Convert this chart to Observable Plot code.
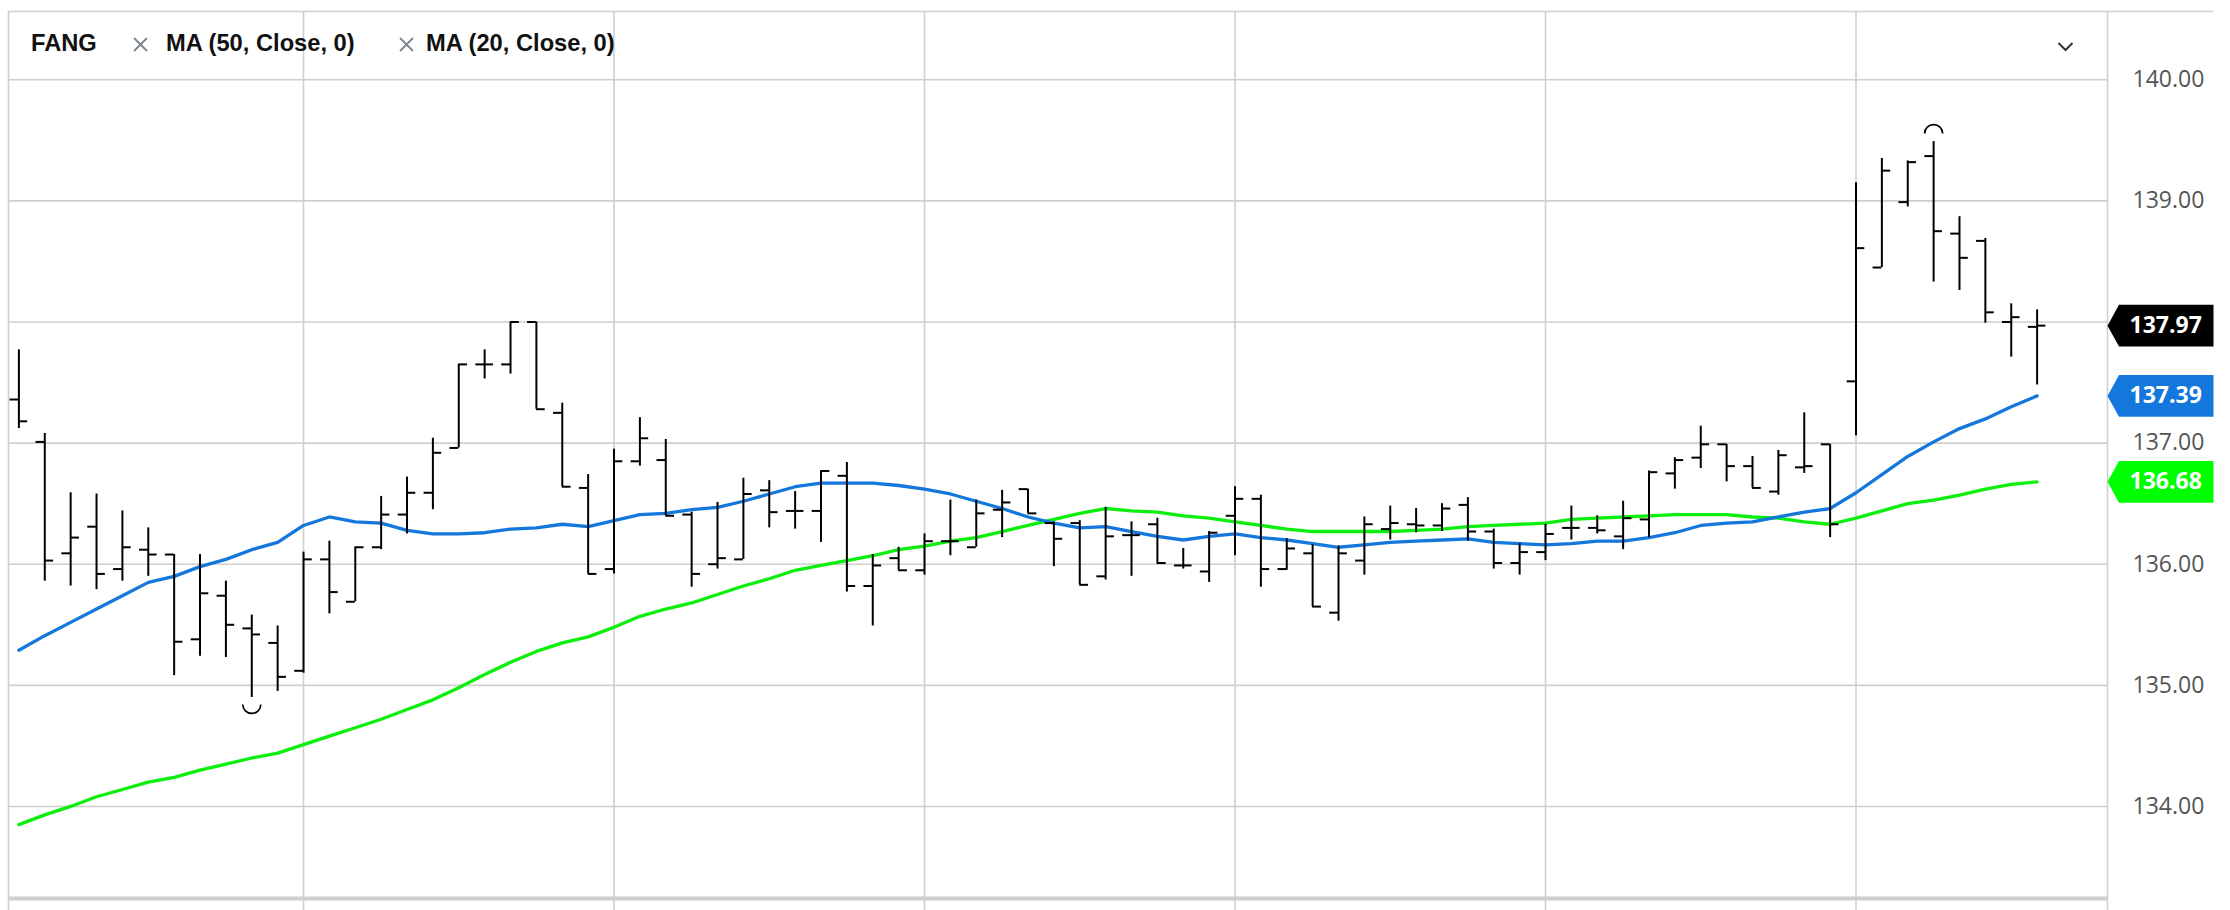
<!DOCTYPE html>
<html>
<head>
<meta charset="utf-8">
<script src="https://cdn.jsdelivr.net/npm/d3@7"></script>
<script src="https://cdn.jsdelivr.net/npm/@observablehq/plot@0.6"></script>
<style>
  html, body { margin: 0; padding: 0; background: #fff; }
  #wrap { position: relative; width: 2230px; height: 910px; overflow: hidden; }
  #wrap svg.plot { position: absolute; left: 0; top: 0; }
  .lg { position: absolute; top: 32px; font-family: "Liberation Sans", Arial, sans-serif; font-weight: bold; font-size: 23.7px; line-height: 23px; color: #111; white-space: nowrap; }
  .ic { position: absolute; }
</style>
</head>
<body>
<div id="wrap">
  <div id="chart"></div>
  <span class="lg" style="left:31px">FANG</span>
  <svg class="ic" style="left:133px;top:37px" width="15" height="15"><path d="M1,1L14,14M14,1L1,14" stroke="#7d868c" stroke-width="1.8" fill="none"/></svg>
  <span class="lg" style="left:166px">MA (50, Close, 0)</span>
  <svg class="ic" style="left:399px;top:37px" width="15" height="15"><path d="M1,1L14,14M14,1L1,14" stroke="#7d868c" stroke-width="1.8" fill="none"/></svg>
  <span class="lg" style="left:426px">MA (20, Close, 0)</span>
  <svg class="ic" style="left:2057px;top:41px" width="18" height="12"><path d="M1.5,2L8.5,9L15.5,2" stroke="#333" stroke-width="2" fill="none"/></svg>
</div>
<script>
// ---- data (5-minute bars, index 0..78) ----
const opens = [137.36,137.01,136.09,136.31,135.96,136.12,136.08,135.38,135.74,135.47,135.35,135.12,136.04,135.69,136.14,136.41,136.59,136.96,137.65,137.65,138.00,137.25,136.63,135.96,136.85,136.86,136.41,136.00,136.04,136.61,136.44,136.44,136.73,135.82,136.05,135.95,136.19,136.14,136.45,136.62,136.34,136.34,135.90,136.24,136.33,135.99,135.94,136.40,136.54,135.96,136.09,135.60,136.03,136.29,136.33,136.32,136.49,136.27,136.01,136.10,136.30,136.30,136.23,136.37,136.75,136.88,136.99,136.81,136.60,136.80,136.99,137.51,138.45,138.99,139.37,138.73,138.67,138.00,137.96];
const highs = [137.77,137.08,136.59,136.58,136.44,136.30,136.08,136.08,135.86,135.58,135.49,136.10,136.19,136.14,136.56,136.72,137.04,137.65,137.77,138.00,138.00,137.33,136.74,136.95,137.21,137.03,136.43,136.51,136.71,136.69,136.60,136.77,136.84,136.08,136.14,136.25,136.53,136.53,136.61,136.62,136.35,136.36,136.47,136.35,136.38,136.13,136.27,136.64,136.57,136.21,136.16,136.15,136.39,136.48,136.46,136.50,136.55,136.29,136.17,136.33,136.48,136.40,136.52,136.77,136.88,137.14,136.99,136.89,136.94,137.25,136.99,139.15,139.35,139.33,139.49,138.87,138.69,138.15,138.10];
const lows = [137.12,135.86,135.82,135.79,135.86,135.90,135.08,135.24,135.23,134.90,134.95,135.10,135.59,135.69,136.12,136.25,136.45,136.96,137.53,137.57,137.28,136.64,135.92,135.92,136.81,136.40,135.81,135.96,136.04,136.30,136.29,136.18,135.77,135.49,135.95,135.91,136.07,136.14,136.22,136.42,135.98,135.83,135.87,135.90,136.00,135.96,135.85,136.07,135.81,135.95,135.65,135.53,135.91,136.20,136.26,136.27,136.19,135.96,135.91,136.03,136.20,136.25,136.12,136.22,136.62,136.79,136.68,136.63,136.57,136.75,136.22,137.06,138.45,138.95,138.33,138.26,137.99,137.71,137.48];
const closes = [137.18,136.03,136.22,135.92,136.14,136.08,135.36,135.76,135.50,135.42,135.07,136.04,135.77,136.14,136.41,136.59,136.92,137.65,137.65,138.00,137.28,136.64,135.92,136.85,137.04,136.40,135.92,136.05,136.58,136.43,136.44,136.77,135.82,135.99,135.95,136.19,136.19,136.42,136.51,136.42,136.21,135.83,136.23,136.24,136.01,135.99,136.26,136.54,135.96,136.13,135.65,136.09,136.33,136.34,136.32,136.46,136.27,136.01,136.10,136.25,136.30,136.28,136.38,136.76,136.86,136.99,136.81,136.63,136.90,136.81,136.33,138.61,139.25,139.32,138.75,138.53,138.08,138.04,137.97];
// MA (20, Close) - blue
const ma20 = [135.29,135.41,135.52,135.63,135.74,135.85,135.90,135.98,136.04,136.12,136.18,136.32,136.39,136.35,136.34,136.28,136.25,136.25,136.26,136.29,136.30,136.33,136.31,136.36,136.41,136.42,136.45,136.47,136.52,136.58,136.64,136.67,136.67,136.67,136.65,136.62,136.58,136.52,136.46,136.39,136.34,136.30,136.31,136.27,136.23,136.20,136.23,136.25,136.22,136.20,136.17,136.14,136.16,136.18,136.19,136.20,136.21,136.18,136.17,136.16,136.17,136.19,136.19,136.22,136.26,136.32,136.34,136.35,136.39,136.43,136.46,136.59,136.74,136.89,137.01,137.12,137.20,137.30,137.39];
// MA (50, Close) - green
const ma50 = [133.85,133.93,134.00,134.08,134.14,134.20,134.24,134.30,134.35,134.40,134.44,134.51,134.58,134.65,134.72,134.80,134.88,134.98,135.09,135.19,135.28,135.35,135.40,135.48,135.57,135.63,135.68,135.75,135.82,135.88,135.95,135.99,136.03,136.07,136.12,136.15,136.19,136.22,136.27,136.32,136.37,136.42,136.46,136.44,136.43,136.40,136.38,136.35,136.32,136.29,136.27,136.27,136.27,136.27,136.28,136.29,136.31,136.32,136.33,136.34,136.37,136.38,136.39,136.40,136.41,136.41,136.41,136.39,136.38,136.35,136.33,136.38,136.44,136.50,136.53,136.57,136.62,136.66,136.68];
const yTicks = [134, 135, 136, 137, 138, 139, 140];
const gridBars = [11, 23, 35, 47, 59, 71];   // vertical grid (hourly)
const xDomain = [-0.402, 80.72];
const yDomain = [133.248, 140.564];

const BLUE = "#1477dc", GREEN_LINE = "#0cef0c", GREEN = "#00ff00", GRID = "#cfcfcf";

const bars = opens.map((o, i) => ({i, open: o, high: highs[i], low: lows[i], close: closes[i]}));
const blueLine = ma20.map((v, i) => ({i, v}));
const greenLine = ma50.map((v, i) => ({i, v}));
const tick = 0.34;

const hiBar = d3.greatest(bars, d => d.high);
const loBar = d3.least(bars, d => d.low);

const arcUp = {draw(ctx, size) { const r = Math.sqrt(size / Math.PI); ctx.moveTo(-r, 0); ctx.arc(0, 0, r, Math.PI, 2 * Math.PI); }};
const arcDown = {draw(ctx, size) { const r = Math.sqrt(size / Math.PI); ctx.moveTo(r, 0); ctx.arc(0, 0, r, 0, Math.PI); }};
const tag = {draw(ctx) { const h = 20.8; ctx.moveTo(0, 0); ctx.lineTo(11.5, -h); ctx.lineTo(106, -h); ctx.lineTo(106, h); ctx.lineTo(11.5, h); ctx.closePath(); }};

const lastLabels = [
  {value: closes[closes.length - 1], color: "#000"},
  {value: ma20[ma20.length - 1], color: BLUE},
  {value: ma50[ma50.length - 1], color: GREEN}
];

const plot = Plot.plot({
  width: 2230, height: 910,
  marginLeft: 8, marginRight: 123, marginTop: 11, marginBottom: 13,
  style: {background: "transparent", fontFamily: "Open Sans"},
  x: {domain: xDomain, axis: null},
  y: {domain: yDomain},
  marks: [
    Plot.ruleY(yTicks, {stroke: GRID, strokeWidth: 1.6}),
    Plot.ruleX(gridBars, {stroke: GRID, strokeWidth: 1.6, insetBottom: -13}),
    Plot.ruleX([xDomain[0]], {stroke: GRID, strokeWidth: 1.6, insetBottom: -13}),
    Plot.ruleX([xDomain[1]], {stroke: GRID, strokeWidth: 1.6, insetBottom: -13}),
    Plot.ruleY([yDomain[1]], {stroke: GRID, strokeWidth: 1.6, insetRight: -106}),
    Plot.ruleY([yDomain[0]], {stroke: GRID, strokeWidth: 4, dy: 1}),
    Plot.axisY(yTicks, {anchor: "right", tickSize: 0, tickPadding: 25, label: null,
      tickFormat: d => d.toFixed(2), fontSize: 23, fill: "#555", color: "#555"}),
    Plot.line(greenLine, {x: "i", y: "v", stroke: GREEN_LINE, strokeWidth: 3.3}),
    Plot.line(blueLine, {x: "i", y: "v", stroke: BLUE, strokeWidth: 3.3}),
    Plot.ruleX(bars, {x: "i", y1: "low", y2: "high", stroke: "#000", strokeWidth: 2}),
    Plot.ruleY(bars, {y: "open", x1: d => d.i - tick, x2: "i", stroke: "#000", strokeWidth: 2}),
    Plot.ruleY(bars, {y: "close", x1: "i", x2: d => d.i + tick, stroke: "#000", strokeWidth: 2}),
    Plot.dot([hiBar], {x: "i", y: "high", symbol: arcUp, r: 9, dy: -8, stroke: "#000", fill: "none", strokeWidth: 1.7}),
    Plot.dot([loBar], {x: "i", y: "low", symbol: arcDown, r: 9, dy: 7, stroke: "#000", fill: "none", strokeWidth: 1.7}),
    Plot.dot(lastLabels, {y: "value", frameAnchor: "right", symbol: tag, r: 1, fill: "color", stroke: null}),
    Plot.text(lastLabels, {y: "value", frameAnchor: "right", dx: 22, textAnchor: "start",
      text: d => d.value.toFixed(2), fill: "#fff", fontWeight: "bold", fontSize: 23, fontFamily: "Open Sans"})
  ]
});
plot.classList.add("plot");
document.getElementById("chart").appendChild(plot);
</script>
</body>
</html>
